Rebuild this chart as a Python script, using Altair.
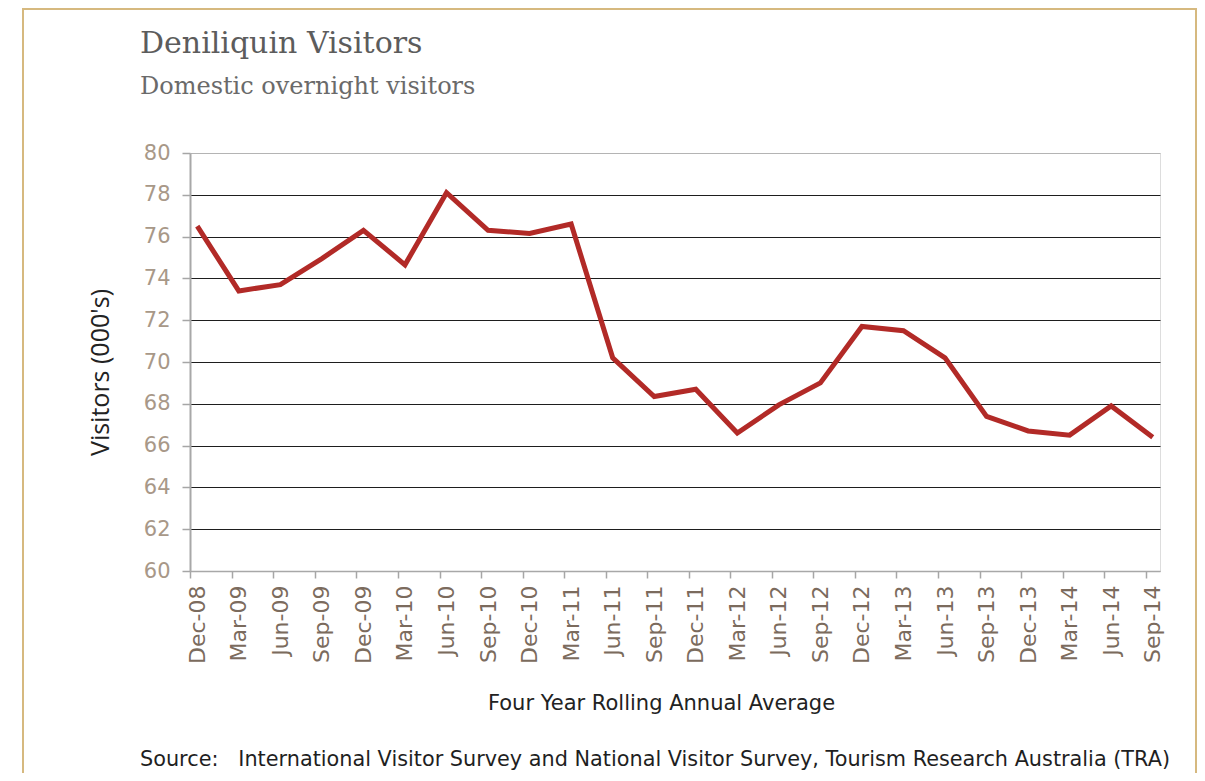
import altair as alt
import pandas as pd

# ---- data ----
quarters = ["Dec-08", "Mar-09", "Jun-09", "Sep-09", "Dec-09", "Mar-10", "Jun-10",
            "Sep-10", "Dec-10", "Mar-11", "Jun-11", "Sep-11", "Dec-11", "Mar-12",
            "Jun-12", "Sep-12", "Dec-12", "Mar-13", "Jun-13", "Sep-13", "Dec-13",
            "Mar-14", "Jun-14", "Sep-14"]
visitors = [76.5, 73.4, 73.7, 74.95, 76.3, 74.65, 78.1, 76.3, 76.15, 76.6, 70.2,
            68.35, 68.7, 66.6, 67.95, 69.0, 71.7, 71.5, 70.2, 67.4, 66.7, 66.5,
            67.9, 66.4]
y_ticks = [60, 62, 64, 66, 68, 70, 72, 74, 76, 78, 80]

title_text = "Deniliquin Visitors"
subtitle_text = "Domestic overnight visitors"
x_title = "Four Year Rolling Annual Average"
y_title = "Visitors (000's)"
source_text = ("Source:\u00a0\u00a0\u00a0International Visitor Survey and National "
               "Visitor Survey, Tourism Research Australia (TRA)")

df = pd.DataFrame({"quarter": quarters, "visitors": visitors})

W, H = 970, 418

line = alt.Chart(df).mark_line(color="#b22a27", strokeWidth=5).encode(
    x=alt.X(
        "quarter:N", sort=quarters,
        scale=alt.Scale(type="point", padding=0.175),
        axis=alt.Axis(
            title=x_title, labelAngle=270, labelFont="DejaVu Sans", labelFontSize=22,
            labelColor="#7b6b5d", labelOverlap=False, labelPadding=7,
            tickColor="#a6a6a6", tickSize=7, tickWidth=1.5, tickOffset=-7,
            labelOffset=7, domainColor="#a8a8a8", domainWidth=1.5, grid=False,
            titleFont="DejaVu Sans", titleFontSize=21, titleFontWeight="normal",
            titleColor="#222222", titleX=471, titleY=132, titleAlign="center",
            titleBaseline="middle",
        ),
    ),
    y=alt.Y(
        "visitors:Q",
        scale=alt.Scale(domain=[60, 80], nice=False, zero=False),
        axis=alt.Axis(
            title=y_title, values=y_ticks, labelFont="DejaVu Sans", labelFontSize=21,
            labelColor="#a89888", labelPadding=12, labelFlush=False,
            tickColor="#a6a6a6", tickSize=8, tickWidth=1.5,
            domainColor="#a8a8a8", domainWidth=2,
            grid=True,
            gridColor={"condition": {"test": "datum.value == 80 || datum.value == 60",
                                     "value": "#b4b4b4"}, "value": "#1e1e1e"},
            gridWidth=1.2,
            titleFont="Open Sans", titleFontSize=25, titleFontWeight="normal",
            titleColor="#222222", titleX=-90, titleY=219, titleAngle=270,
            titleAlign="center", titleBaseline="middle",
        ),
    ),
)

frame = alt.Chart(alt.Data(values=[{}])).mark_rect(
    filled=False, stroke="#d6b97f", strokeWidth=2
).encode(
    x=alt.value(-167), x2=alt.value(1006), y=alt.value(-144), y2=alt.value(700)
)

source = alt.Chart(alt.Data(values=[{}])).mark_text(
    text=source_text, align="left", baseline="middle", font="DejaVu Sans",
    fontSize=20.8, color="#1f1f1f"
).encode(x=alt.value(-50), y=alt.value(607))

chart = alt.layer(frame, line, source).properties(
    width=W, height=H,
    title=alt.TitleParams(
        text=title_text, subtitle=subtitle_text, anchor="start", frame="group",
        dx=-50, offset=-91, font="DejaVu Serif", fontSize=30, fontWeight="normal",
        color="#5c5c5c", subtitleFont="DejaVu Serif", subtitleFontSize=24,
        subtitleColor="#6a6a6a", subtitlePadding=16,
    ),
    autosize=alt.AutoSizeParams(type="none"),
    padding={"left": 182, "top": 145, "right": 37, "bottom": 202},
).configure_view(strokeWidth=0).configure(background="white")

chart.save("out.html", embed_options={"renderer": "svg", "actions": False})
